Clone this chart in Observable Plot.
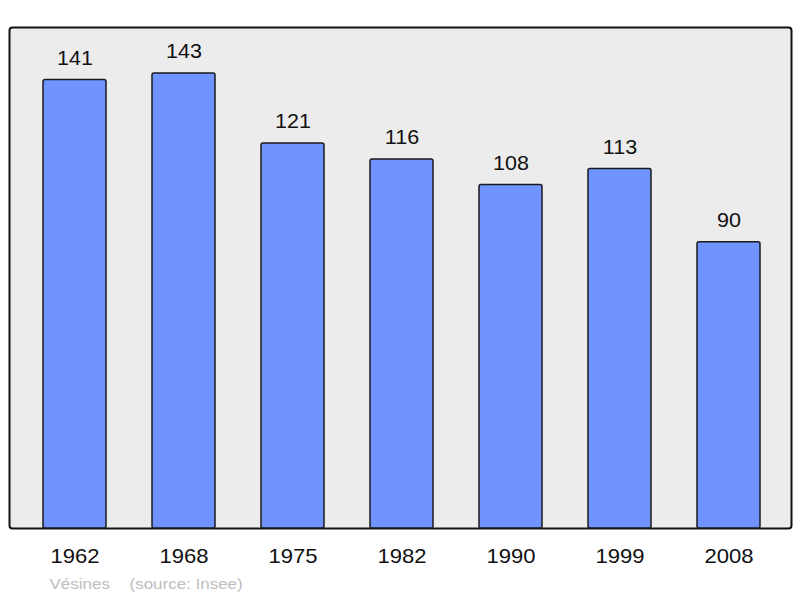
<!DOCTYPE html>
<html>
<head>
<meta charset="utf-8">
<script src="https://cdn.jsdelivr.net/npm/d3@7"></script>
<script src="https://cdn.jsdelivr.net/npm/@observablehq/plot@0.6"></script>
<style>
  html, body { margin: 0; padding: 0; background: #ffffff; }
  #chart svg { display: block; font-family: "Liberation Sans", Arial, sans-serif; }
</style>
</head>
<body>
<div id="chart"></div>
<script>
const years = ["1962", "1968", "1975", "1982", "1990", "1999", "2008"];
const population = [141, 143, 121, 116, 108, 113, 90];
const placeName = "Vésines";
const sourceNote = "(source: Insee)";

const data = years.map((year, i) => ({year, value: population[i]}));

const plot = Plot.plot({
  width: 800,
  height: 598,
  marginLeft: 9,
  marginRight: 9,
  marginTop: 27,
  marginBottom: 70,
  style: {background: "#ffffff", fontFamily: "Liberation Sans, Arial, sans-serif"},
  x: {domain: years, paddingInner: 0.425, paddingOuter: 0.29, align: 0.52, axis: null},
  y: {domain: [0, 157.5], axis: null},
  marks: [
    Plot.frame({fill: "#ececec", stroke: "#111111", strokeWidth: 2, rx: 3}),
    Plot.barY(data, {x: "year", y: "value", fill: "#7094ff", stroke: "#1a1a1a", strokeWidth: 1.5, rx: 2}),
    Plot.text(data, {x: "year", y: "value", text: d => String(d.value), dy: -22, fontSize: 20.5, fill: "#111111", className: "stretch"}),
    Plot.text(data, {x: "year", text: "year", frameAnchor: "bottom", lineAnchor: "middle", dy: 28, fontSize: 21, fill: "#111111", className: "stretch"}),
    Plot.text([placeName], {text: d => d, frameAnchor: "bottom-left", lineAnchor: "middle", dx: 40, dy: 56, textAnchor: "start", fontSize: 14.5, fill: "#bdbdbd", className: "stretch-caption"}),
    Plot.text([sourceNote], {text: d => d, frameAnchor: "bottom-left", lineAnchor: "middle", dx: 120, dy: 56, textAnchor: "start", fontSize: 14.5, fill: "#bdbdbd", className: "stretch-caption"})
  ]
});

document.getElementById("chart").appendChild(plot);

// the reference text is slightly stretched horizontally
function stretch(selector, factor) {
  plot.querySelectorAll(selector).forEach(t => {
    const len = t.getComputedTextLength();
    t.setAttribute("textLength", (len * factor).toFixed(1));
    t.setAttribute("lengthAdjust", "spacingAndGlyphs");
  });
}
stretch("g.stretch text", 1.05);
stretch("g.stretch-caption text", 1.17);
</script>
</body>
</html>
